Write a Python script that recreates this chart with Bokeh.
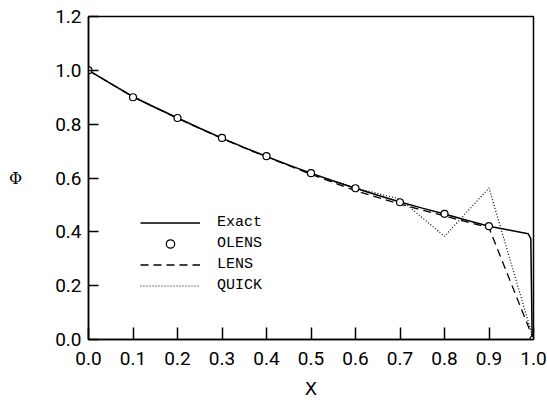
from bokeh.plotting import figure
from bokeh.models import Range1d, Legend, LegendItem, FixedTicker
from bokeh.embed import file_html
from bokeh.resources import INLINE

# Exact solution, sampled finely including the steep drop at the right wall
x_exact = [0.0, 0.05, 0.1, 0.15, 0.2, 0.25, 0.3, 0.35, 0.4, 0.45, 0.5, 0.55,
           0.6, 0.65, 0.7, 0.75, 0.8, 0.85, 0.9, 0.95, 0.988, 0.994, 0.997, 1.0]
phi_exact = [1.0, 0.951, 0.902, 0.862, 0.823, 0.785, 0.748, 0.713, 0.680, 0.648,
             0.618, 0.589, 0.562, 0.536, 0.511, 0.488, 0.466, 0.443, 0.421, 0.405,
             0.393, 0.375, 0.0, 0.0]

# Nodal values of the three schemes
x_nodes = [0.0, 0.1, 0.2, 0.3, 0.4, 0.5, 0.6, 0.7, 0.8, 0.9, 1.0]
phi_olens = [1.0, 0.900, 0.823, 0.749, 0.681, 0.618, 0.562, 0.510, 0.467, 0.421, 0.0]
phi_lens = [1.0, 0.901, 0.822, 0.746, 0.678, 0.614, 0.553, 0.503, 0.459, 0.415, 0.0]
phi_quick = [1.0, 0.902, 0.823, 0.748, 0.680, 0.617, 0.563, 0.522, 0.383, 0.563, 0.0]

x_ticks = [0.0, 0.1, 0.2, 0.3, 0.4, 0.5, 0.6, 0.7, 0.8, 0.9, 1.0]
y_ticks = [0.0, 0.2, 0.4, 0.6, 0.8, 1.0, 1.2]

TICK_FONT = "Roboto"

p = figure(width=547, height=404, output_backend="svg", toolbar_location=None,
           x_range=Range1d(0, 1), y_range=Range1d(0, 1.2),
           min_border_left=88, min_border_right=14,
           min_border_top=16, min_border_bottom=65)
p.background_fill_color = "white"
p.border_fill_color = "white"
p.grid.visible = False
p.outline_line_color = "black"
p.outline_line_width = 1.5

xa = p.xaxis[0]
xa.ticker = FixedTicker(ticks=x_ticks)
xa.major_label_overrides = {t: f"{t:.1f}" for t in x_ticks}
xa.major_tick_in = 12
xa.major_tick_out = 0
xa.minor_tick_in = 0
xa.minor_tick_out = 0
xa.major_label_standoff = 12
xa.axis_label = "X"
xa.axis_label_text_font = "DejaVu Sans"
xa.axis_label_text_font_style = "normal"
xa.axis_label_text_font_size = "18px"
xa.axis_label_standoff = 10

ya = p.yaxis[0]
ya.ticker = FixedTicker(ticks=y_ticks)
ya.major_label_overrides = {t: f"{t:.1f}" for t in y_ticks}
ya.major_tick_in = 10
ya.major_tick_out = 0
ya.minor_tick_in = 0
ya.minor_tick_out = 0
ya.major_label_standoff = 7
ya.axis_label = "Φ"
ya.axis_label_orientation = "horizontal"
ya.axis_label_text_font = "DejaVu Serif"
ya.axis_label_text_font_style = "normal"
ya.axis_label_text_font_size = "16px"
ya.axis_label_standoff = 30

for ax in (xa, ya):
    ax.axis_line_color = "black"
    ax.axis_line_width = 1.5
    ax.major_tick_line_color = "black"
    ax.major_tick_line_width = 1.5
    ax.major_label_text_font = TICK_FONT
    ax.major_label_text_font_size = "19px"
    ax.major_label_text_color = "black"
    ax.axis_label_text_color = "black"

r_exact = p.line(x_exact, phi_exact, line_color="black", line_width=1.5)
r_lens = p.line(x_nodes, phi_lens, line_color="black", line_width=1.3,
                line_dash="8 5")
r_quick = p.line(x_nodes, phi_quick, line_color="black", line_width=1.2,
                 line_dash="1 2")
r_olens = p.scatter(x_nodes, phi_olens, marker="circle", size=7,
                    fill_color="white", line_color="black", line_width=1.2)

legend = Legend(items=[
    LegendItem(label="Exact", renderers=[r_exact]),
    LegendItem(label="OLENS", renderers=[r_olens]),
    LegendItem(label="LENS", renderers=[r_lens]),
    LegendItem(label="QUICK", renderers=[r_quick]),
], location=(52, 43))
legend.glyph_width = 60
legend.glyph_height = 21
legend.label_height = 21
legend.label_standoff = 17
legend.spacing = 0
legend.padding = 0
legend.margin = 0
legend.border_line_color = None
legend.background_fill_alpha = 0
legend.label_text_font = "Liberation Mono"
legend.label_text_font_size = "15px"
legend.label_text_color = "black"
p.add_layout(legend, "center")

open("out.html", "w").write(file_html(p, INLINE))
